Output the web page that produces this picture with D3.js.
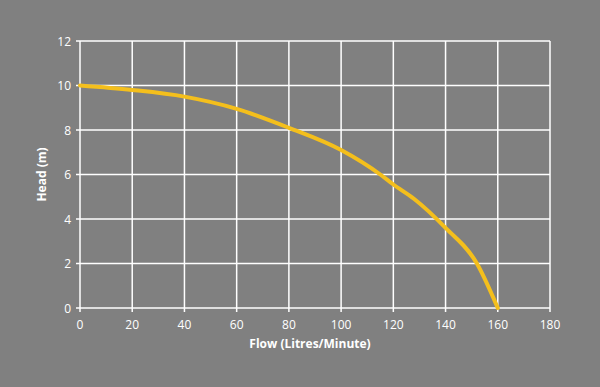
<!DOCTYPE html>
<html>
<head>
<meta charset="utf-8">
<script src="https://cdn.jsdelivr.net/npm/d3@7"></script>
<style>
  body { margin: 0; background: #808080; }
  svg text { font-family: "Open Sans", "Liberation Sans", sans-serif; fill: #fff; }
</style>
</head>
<body>
<div id="chart"></div>
<script>
var flow = [0, 20, 40, 60, 80, 100, 115, 120, 128, 140, 152, 160];
var head = [10, 9.8, 9.5, 8.95, 8.1, 7.1, 6.0, 5.55, 4.9, 3.6, 2.0, 0];
var xTicks = [0, 20, 40, 60, 80, 100, 120, 140, 160, 180];
var yTicks = [0, 2, 4, 6, 8, 10, 12];

function pumpChart() {
    var width = 600;
    var height = 387;
    var margin = {left: 80, right: 50, top: 41, bottom: 79};

    var svg = d3.select('#chart')
      .append('svg')
      .attr('width', width)
      .attr('height', height);

    svg.append('rect')
      .attr('width', width)
      .attr('height', height)
      .attr('fill', '#808080');

    var x = d3.scaleLinear().domain([0, 180]).range([margin.left, width - margin.right]);
    var y = d3.scaleLinear().domain([0, 12]).range([height - margin.bottom, margin.top]);

    // grid
    svg.append('g').selectAll('line')
      .data(xTicks)
      .enter()
      .append('line')
      .attr('x1', function(d) { return x(d); })
      .attr('x2', function(d) { return x(d); })
      .attr('y1', y(12))
      .attr('y2', y(0) + 4)
      .attr('stroke', '#fff')
      .attr('stroke-width', 1.5);

    svg.append('g').selectAll('line')
      .data(yTicks)
      .enter()
      .append('line')
      .attr('x1', x(0) - 4)
      .attr('x2', x(180))
      .attr('y1', function(d) { return y(d); })
      .attr('y2', function(d) { return y(d); })
      .attr('stroke', '#fff')
      .attr('stroke-width', 1.5);

    svg.append('g').selectAll('text')
      .data(xTicks)
      .enter()
      .append('text')
      .attr('x', function(d) { return x(d); })
      .attr('y', y(0) + 21)
      .attr('text-anchor', 'middle')
      .style('font-size', '12px')
      .text(function(d) { return d; });

    svg.append('g').selectAll('text')
      .data(yTicks)
      .enter()
      .append('text')
      .attr('x', x(0) - 9)
      .attr('y', function(d) { return y(d) + 4.5; })
      .attr('text-anchor', 'end')
      .style('font-size', '12px')
      .text(function(d) { return d; });

    svg.append('text')
      .attr('x', 310)
      .attr('y', 348)
      .attr('text-anchor', 'middle')
      .style('font-size', '12px')
      .style('font-weight', 'bold')
      .text('Flow (Litres/Minute)');

    svg.append('text')
      .attr('transform', 'translate(46,' + y(6) + ') rotate(-90)')
      .attr('text-anchor', 'middle')
      .style('font-size', '12px')
      .style('font-weight', 'bold')
      .text('Head (m)');

    var line = d3.line()
      .x(function(d) { return x(d[0]); })
      .y(function(d) { return y(d[1]); })
      .curve(d3.curveMonotoneX);

    svg.append('path')
      .datum(d3.zip(flow, head))
      .attr('d', line)
      .attr('fill', 'none')
      .attr('stroke', '#f4bf1c')
      .attr('stroke-width', 4)
      .attr('stroke-linecap', 'round');
}

pumpChart();
</script>
</body>
</html>
